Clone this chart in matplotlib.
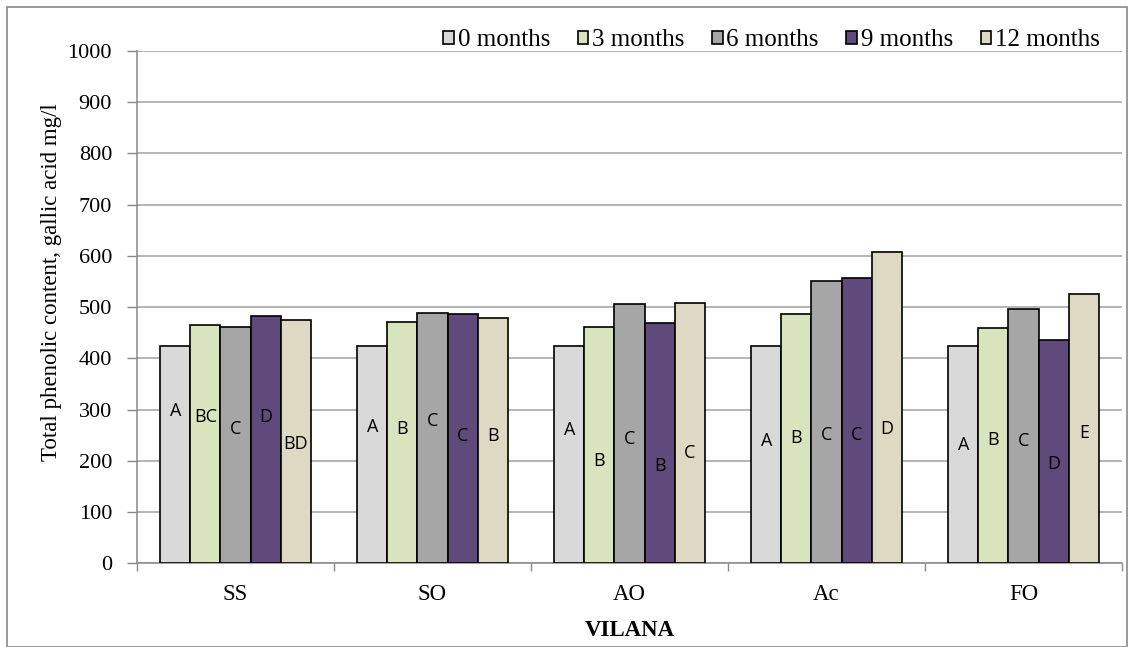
import numpy as np
import matplotlib.pyplot as plt
from matplotlib.patches import Rectangle

groups = ["SS", "SO", "AO", "Ac", "FO"]
series = ["0 months", "3 months", "6 months", "9 months", "12 months"]
colors = ["#D9D9D9", "#D7E4BD", "#A6A6A6", "#604A7B", "#DDD9C3"]

values = {
    "0 months": [425, 425, 425, 425, 425],
    "3 months": [466, 471, 461, 487, 460],
    "6 months": [462, 488, 507, 552, 497],
    "9 months": [482, 486, 469, 557, 435],
    "12 months": [475, 478, 508, 608, 525],
}

letters = {
    "0 months": ["A", "A", "A", "A", "A"],
    "3 months": ["BC", "B", "B", "B", "B"],
    "6 months": ["C", "C", "C", "C", "C"],
    "9 months": ["D", "C", "B", "C", "D"],
    "12 months": ["BD", "B", "C", "D", "E"],
}
# vertical position of each letter (in data units)
letter_y = {
    "0 months": [297, 267, 261, 238, 231],
    "3 months": [285, 263, 199, 245, 241],
    "6 months": [262, 278, 243, 251, 238],
    "9 months": [285, 248, 189, 251, 194],
    "12 months": [233, 248, 216, 262, 254],
}

W, H = 1128, 647
fig = plt.figure(figsize=(W / 100, H / 100), dpi=100)
ax = fig.add_axes([137 / W, 1 - 563.3 / H, (1122 - 137) / W, (563.3 - 51) / H])

x = np.arange(len(groups))
bw = 0.153
for i, s in enumerate(series):
    pos = x + (i - 2) * bw
    ax.bar(pos, values[s], width=bw, color=colors[i], edgecolor="black",
           linewidth=1.2, label=s, zorder=3)
    for p, lab, ly in zip(pos, letters[s], letter_y[s]):
        ax.text(p, ly, lab, ha="center", va="center", fontsize=13,
                family="Open Sans", zorder=4)

ax.set_xlim(-0.5, len(groups) - 0.5)
ax.set_ylim(0, 1000)
ax.set_yticks(np.arange(0, 1001, 100))
ax.yaxis.grid(True, color="#A0A0A0", linewidth=1.1, zorder=0)
ax.set_xticks(x)
ax.set_xticklabels(groups)
ax.set_xticks(np.arange(-0.5, len(groups)), minor=True)
ax.tick_params(axis="x", which="major", length=0, pad=15, labelsize=16.5)
ax.tick_params(axis="x", which="minor", length=6, color="#888888", width=1)
ax.tick_params(axis="y", length=7, color="#888888", width=1, labelsize=16, pad=11)
for lab in ax.get_xticklabels() + ax.get_yticklabels():
    lab.set_family("Liberation Serif")

for sp in ["top", "right"]:
    ax.spines[sp].set_visible(False)
for sp in ["left", "bottom"]:
    ax.spines[sp].set_color("#888888")
    ax.spines[sp].set_linewidth(1.1)

ax.set_ylabel("Total phenolic content, gallic acid mg/l", family="Liberation Serif",
              fontsize=16.5)
ax.yaxis.set_label_coords(-0.076, 0.549)
ax.set_xlabel("VILANA", family="Liberation Serif", fontsize=16.5, fontweight="bold",
              labelpad=11)

leg = ax.legend(loc="center right", bbox_to_anchor=(1100 / W, 1 - 40 / H),
                bbox_transform=fig.transFigure, ncol=5, frameon=False,
                prop={"family": "Liberation Serif", "size": 18},
                handlelength=0.42, handleheight=0.42, handletextpad=0.16,
                columnspacing=1.1, borderaxespad=0, borderpad=0)
for h in leg.legend_handles:
    h.set_linewidth(1.2)

fig.patches.append(Rectangle((7 / W, 0), (W - 8) / W, 1 - 7 / H, transform=fig.transFigure,
                             fill=False, edgecolor="#888888", linewidth=1.2))

fig.savefig("out.png", dpi=100)
